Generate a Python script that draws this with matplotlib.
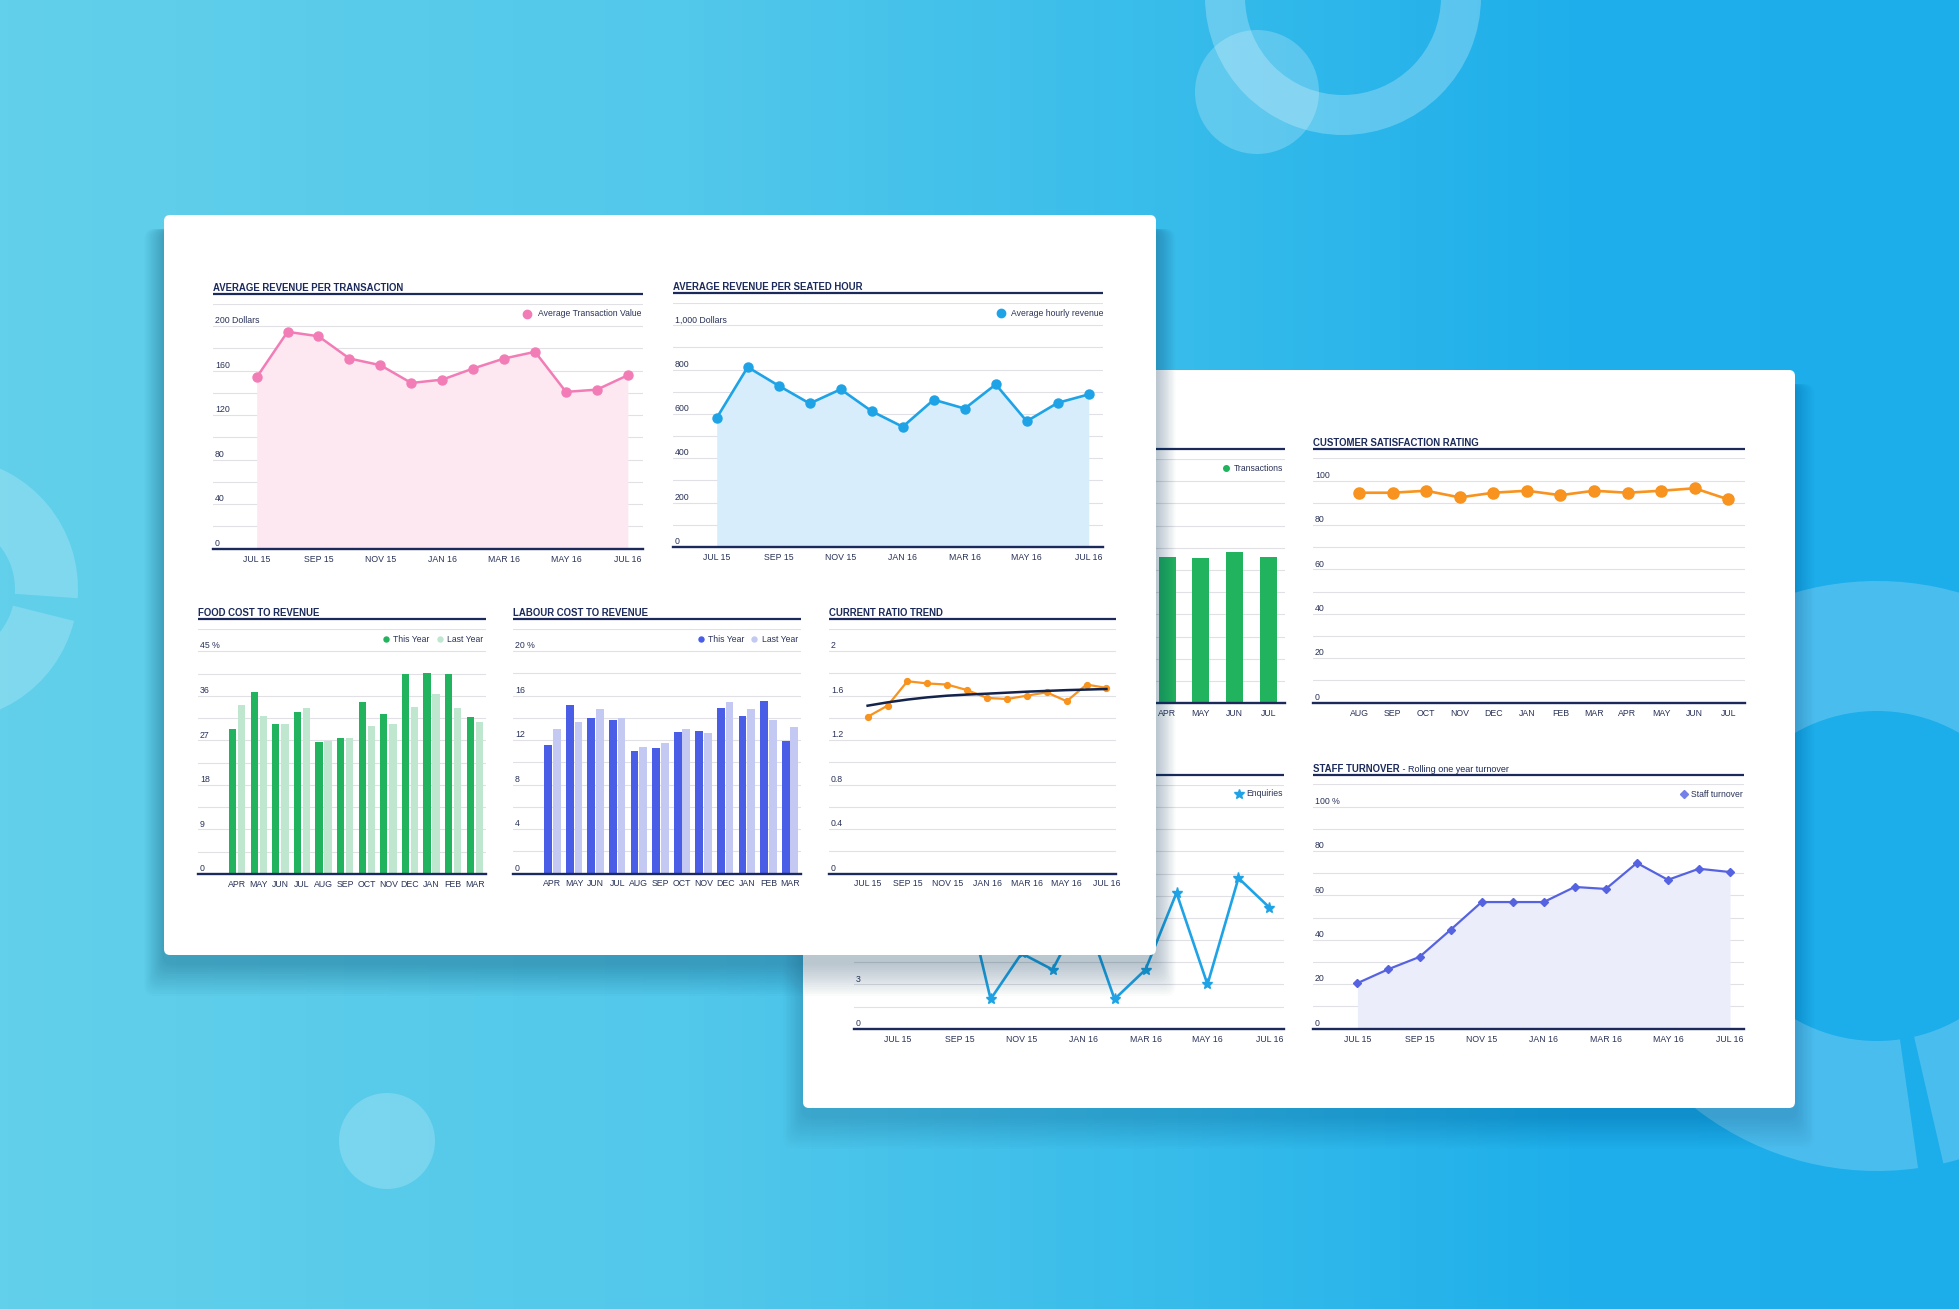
import numpy as np
import matplotlib
matplotlib.use('Agg')
import matplotlib.pyplot as plt
from matplotlib.patches import FancyBboxPatch, Circle, Wedge
from matplotlib.colors import LinearSegmentedColormap

plt.rcParams['font.family'] = ['Liberation Sans', 'DejaVu Sans']

W, H = 1959, 1309

# ---- data ----
line_months = ['JUL 15', 'AUG 15', 'SEP 15', 'OCT 15', 'NOV 15', 'DEC 15', 'JAN 16',
               'FEB 16', 'MAR 16', 'APR 16', 'MAY 16', 'JUN 16', 'JUL 16']
avg_transaction = [154, 195, 191, 171, 165, 149, 152, 162, 171, 177, 141, 143, 156]
avg_hourly = [582, 811, 727, 647, 711, 612, 542, 664, 624, 733, 567, 650, 688]

fin_months = ['APR', 'MAY', 'JUN', 'JUL', 'AUG', 'SEP', 'OCT', 'NOV', 'DEC', 'JAN', 'FEB', 'MAR']
food_this = [29.2, 36.7, 30.3, 32.8, 26.7, 27.4, 34.8, 32.4, 40.5, 40.7, 40.5, 31.8]
food_last = [34.2, 31.9, 30.4, 33.5, 26.8, 27.4, 29.9, 30.3, 33.7, 36.3, 33.5, 30.7]
labour_this = [11.6, 15.2, 14.0, 13.8, 11.0, 11.3, 12.7, 12.8, 14.9, 14.2, 15.5, 11.9]
labour_last = [13.0, 13.6, 14.8, 14.0, 11.4, 11.7, 13.0, 12.6, 15.4, 14.8, 13.8, 13.2]

ratio = [1.41, 1.51, 1.73, 1.71, 1.70, 1.65, 1.58, 1.57, 1.60, 1.63, 1.55, 1.70, 1.67]
ratio_trend = [1.51, 1.54, 1.565, 1.585, 1.60, 1.61, 1.618, 1.627, 1.636, 1.643, 1.65, 1.655, 1.66]

year_months = ['AUG', 'SEP', 'OCT', 'NOV', 'DEC', 'JAN', 'FEB', 'MAR', 'APR', 'MAY', 'JUN', 'JUL']
transactions = [2900, 3050, 3150, 3000, 3350, 2750, 2950, 3200, 3300, 3280, 3400, 3290]
satisfaction = [94.5, 94.5, 95.4, 92.4, 94.5, 95.4, 93.4, 95.4, 94.5, 95.4, 96.5, 91.5]

enquiries = [6.5, 9.0, 10.9, 2.0, 5.1, 4.0, 8.0, 2.0, 4.0, 9.2, 3.0, 10.2, 8.2]
staff_turnover = [20.5, 26.8, 32.3, 44.5, 57, 57, 57, 63.8, 62.9, 74.6, 67, 72, 70.5]

# ---- colours ----
NAVY = '#1b2a5a'
TXT = '#2a3358'
GRID = '#e0e0e5'
PINK, PINK_FILL = '#f27db6', '#fde8f1'
SKY, SKY_FILL = '#1ea3e6', '#d7edfb'
GREEN, GREEN_L = '#22b35e', '#bfe7cf'
INDIGO, INDIGO_L = '#4a5de6', '#c4c9f4'
ORANGE = '#f7931e'
STAFF, STAFF_FILL = '#5663e0', '#ecedfb'

fig = plt.figure(figsize=(W / 100, H / 100), dpi=100)


def px_axes(l, t, r, b, z):
    return fig.add_axes([l / W, 1 - b / H, (r - l) / W, (b - t) / H], zorder=z)


def pixel_layer(z):
    ax = fig.add_axes([0, 0, 1, 1], zorder=z)
    ax.set_xlim(0, W)
    ax.set_ylim(H, 0)
    ax.axis('off')
    ax.patch.set_alpha(0)
    return ax


def setup(ax, ymax, step, xlim, ylabels):
    ax.set_xlim(*xlim)
    ax.set_ylim(0, ymax)
    ax.patch.set_alpha(0)
    for s in ax.spines.values():
        s.set_visible(False)
    ax.set_yticks([])
    k = 1
    while k * step <= ymax + 1e-9:
        ax.axhline(k * step, color=GRID, lw=0.8, zorder=0)
        k += 1
    ax.axhline(0, color=NAVY, lw=1.7, zorder=6, clip_on=False)
    for i, lab in enumerate(ylabels):
        ax.annotate(lab, (0, i * 2 * step), xycoords=('axes fraction', 'data'),
                    xytext=(1.3, 0.6), textcoords='offset points', fontsize=6.3,
                    color=TXT, va='bottom', ha='left')
    ax.tick_params(axis='x', length=0, pad=4.2, labelsize=6.3, labelcolor=TXT)


def title(pax, l, r, y, text, sub=None):
    pax.plot([l, r], [y, y], color=NAVY, lw=1.6, solid_capstyle='butt', zorder=5)
    t = pax.text(l, y - 3.5, text, fontsize=6.9, fontweight='bold', color=NAVY,
                 va='baseline', ha='left', zorder=5)
    if sub:
        pax.annotate(sub, xy=(1, 0), xycoords=t, fontsize=6.5, color=NAVY,
                     va='bottom', ha='left', zorder=5)


def legend_item(pax, mx, y, tx, text, marker, color, ms):
    pax.plot([mx], [y], marker=marker, color=color, ms=ms, ls='none', zorder=5)
    pax.text(tx, y, text, fontsize=6.2, color=TXT, va='center', ha='left', zorder=5)


def card(pax, l, t, r, b, strength=0.016):
    # soft shadow, mostly below the card
    for i in range(1, 16):
        pax.add_patch(FancyBboxPatch((l - i * 1.3, t + 14), r - l + i * 2.6, b - t - 6 + i * 2.2,
                                     boxstyle='round,pad=0,rounding_size=10',
                                     fc='#0b3a5c', ec='none', alpha=strength, zorder=2))
    pax.add_patch(FancyBboxPatch((l, t), r - l, b - t, boxstyle='round,pad=0,rounding_size=6',
                                 fc='white', ec='none', zorder=3))


# ---- background ----
bg = pixel_layer(0)
grad = LinearSegmentedColormap.from_list('bg', [(0, '#62d0ea'), (0.35, '#52c8ea'), (0.6, '#37bcea'),
                                               (0.8, '#1fafeb'), (1, '#1cadeb')])
bg.imshow(np.linspace(0, 1, 512).reshape(1, -1), extent=[0, W, H, 0], aspect='auto', cmap=grad, zorder=0)
bg.add_patch(Wedge((1343, -3), 138, 0, 360, width=40, fc='white', alpha=0.25, ec='none', zorder=1))
bg.add_patch(Circle((1257, 92), 62, fc='white', alpha=0.22, ec='none', zorder=1))
bg.add_patch(Wedge((-54, 589), 132, 14, 364, width=63, fc='white', alpha=0.2, ec='none', zorder=1))
bg.add_patch(Circle((387, 1141), 48, fc='white', alpha=0.2, ec='none', zorder=1))
bg.add_patch(Wedge((1877, 876), 295, 82, 437, width=130, fc='white', alpha=0.2, ec='none', zorder=1))
bg.set_xlim(0, W)
bg.set_ylim(H, 0)

# ---- back card ----
card(bg, 803, 370, 1795, 1108, 0.010)
title(bg, 854, 1285, 449.3, 'NUMBER OF TRANSACTIONS')
title(bg, 1313, 1745, 449, 'CUSTOMER SATISFACTION RATING')
title(bg, 854, 1284, 775, 'NUMBER OF ENQUIRIES')
title(bg, 1313, 1744, 775, 'STAFF TURNOVER', ' - Rolling one year turnover')
legend_item(bg, 1226, 468.3, 1234, 'Transactions', 'o', GREEN, 4)
legend_item(bg, 1239.3, 794, 1246.7, 'Enquiries', '*', SKY, 7.5)
legend_item(bg, 1684, 794.3, 1691, 'Staff turnover', 'D', '#7681e8', 4)

x12 = np.arange(12)
x13 = np.arange(13)

# transactions chart sits mostly behind the front card; its axis labels are covered there
ax = px_axes(854, 459, 1285, 703.3, 1)
setup(ax, 5500, 500, (-1.3, 11.5), [])
ax.bar(x12, transactions, width=0.5, color=GREEN, zorder=2)
ax.set_xticks(x12, year_months)

ax = px_axes(1313, 458.3, 1745, 702.7, 1)
setup(ax, 110, 10, (-1.37, 11.5), ['0', '20', '40', '60', '80', '100'])
ax.plot(x12, satisfaction, color=ORANGE, lw=1.9, marker='o', ms=8, zorder=3)
ax.set_xticks(x12, year_months)

ax = px_axes(854, 785, 1284, 1028.7, 1)
setup(ax, 16.5, 1.5, (-1.41, 12.47), ['0', '3'])
ax.plot(x13, enquiries, color=SKY, lw=1.9, marker='*', ms=8, zorder=3)
ax.set_xticks(x13[::2], line_months[::2])

ax = px_axes(1313, 784.3, 1744, 1028.7, 1)
setup(ax, 110, 10, (-1.43, 12.45), ['0', '20', '40', '60', '80', '100 %'])
ax.fill_between(x13, staff_turnover, color=STAFF_FILL, lw=0, zorder=1)
ax.plot(x13, staff_turnover, color=STAFF, lw=1.6, marker='D', ms=4.2, zorder=3)
ax.set_xticks(x13[::2], line_months[::2])

# ---- front card ----
top = pixel_layer(2)
card(top, 164, 215, 1156, 955, 0.018)
title(top, 213, 643, 294.3, 'AVERAGE REVENUE PER TRANSACTION')
title(top, 673, 1103, 293.3, 'AVERAGE REVENUE PER SEATED HOUR')
title(top, 198, 486, 619.3, 'FOOD COST TO REVENUE')
title(top, 513, 801, 619.3, 'LABOUR COST TO REVENUE')
title(top, 829, 1116, 619.3, 'CURRENT RATIO TREND')
legend_item(top, 527, 314, 537.7, 'Average Transaction Value', 'o', PINK, 6)
legend_item(top, 1001, 313.3, 1010.7, 'Average hourly revenue', 'o', SKY, 6)
legend_item(top, 386, 639.3, 393.3, 'This Year', 'o', GREEN, 3.6)
legend_item(top, 440, 639.3, 446.7, 'Last Year', 'o', GREEN_L, 3.6)
legend_item(top, 701, 639.3, 708.3, 'This Year', 'o', INDIGO, 3.6)
legend_item(top, 754.3, 639.3, 761.7, 'Last Year', 'o', INDIGO_L, 3.6)

ax = px_axes(213, 304, 643, 548.7, 3)
setup(ax, 220, 20, (-1.41, 12.49), ['0', '40', '80', '120', '160', '200 Dollars'])
ax.fill_between(x13, avg_transaction, color=PINK_FILL, lw=0, zorder=1)
ax.plot(x13, avg_transaction, color=PINK, lw=1.8, marker='o', ms=6.5, zorder=3)
ax.set_xticks(x13[::2], line_months[::2])

ax = px_axes(673, 303, 1103, 547, 3)
setup(ax, 1100, 100, (-1.41, 12.46), ['0', '200', '400', '600', '800', '1,000 Dollars'])
ax.fill_between(x13, avg_hourly, color=SKY_FILL, lw=0, zorder=1)
ax.plot(x13, avg_hourly, color=SKY, lw=1.9, marker='o', ms=6.5, zorder=3)
ax.set_xticks(x13[::2], line_months[::2])

ax = px_axes(198, 629, 486, 874, 3)
setup(ax, 49.5, 4.5, (-1.81, 11.52), ['0', '9', '18', '27', '36', '45 %'])
ax.bar(x12 - 0.21, food_this, width=0.34, color=GREEN, zorder=2)
ax.bar(x12 + 0.21, food_last, width=0.34, color=GREEN_L, zorder=2)
ax.set_xticks(x12, fin_months)

ax = px_axes(513, 629, 801, 873.5, 3)
setup(ax, 22, 2, (-1.83, 11.51), ['0', '4', '8', '12', '16', '20 %'])
ax.bar(x12 - 0.2, labour_this, width=0.36, color=INDIGO, zorder=2)
ax.bar(x12 + 0.2, labour_last, width=0.36, color=INDIGO_L, zorder=2)
ax.set_xticks(x12, fin_months)

ax = px_axes(829, 629, 1116, 873.5, 3)
setup(ax, 2.2, 0.2, (-1.94, 12.48), ['0', '0.4', '0.8', '1.2', '1.6', '2'])
ax.plot(x13, ratio, color=ORANGE, lw=1.6, marker='o', ms=4.2, zorder=3)
ax.plot(x13, ratio_trend, color='#14234b', lw=1.8, zorder=4)
ax.set_xticks(x13[::2], line_months[::2])

fig.savefig('out.png', dpi=100)
